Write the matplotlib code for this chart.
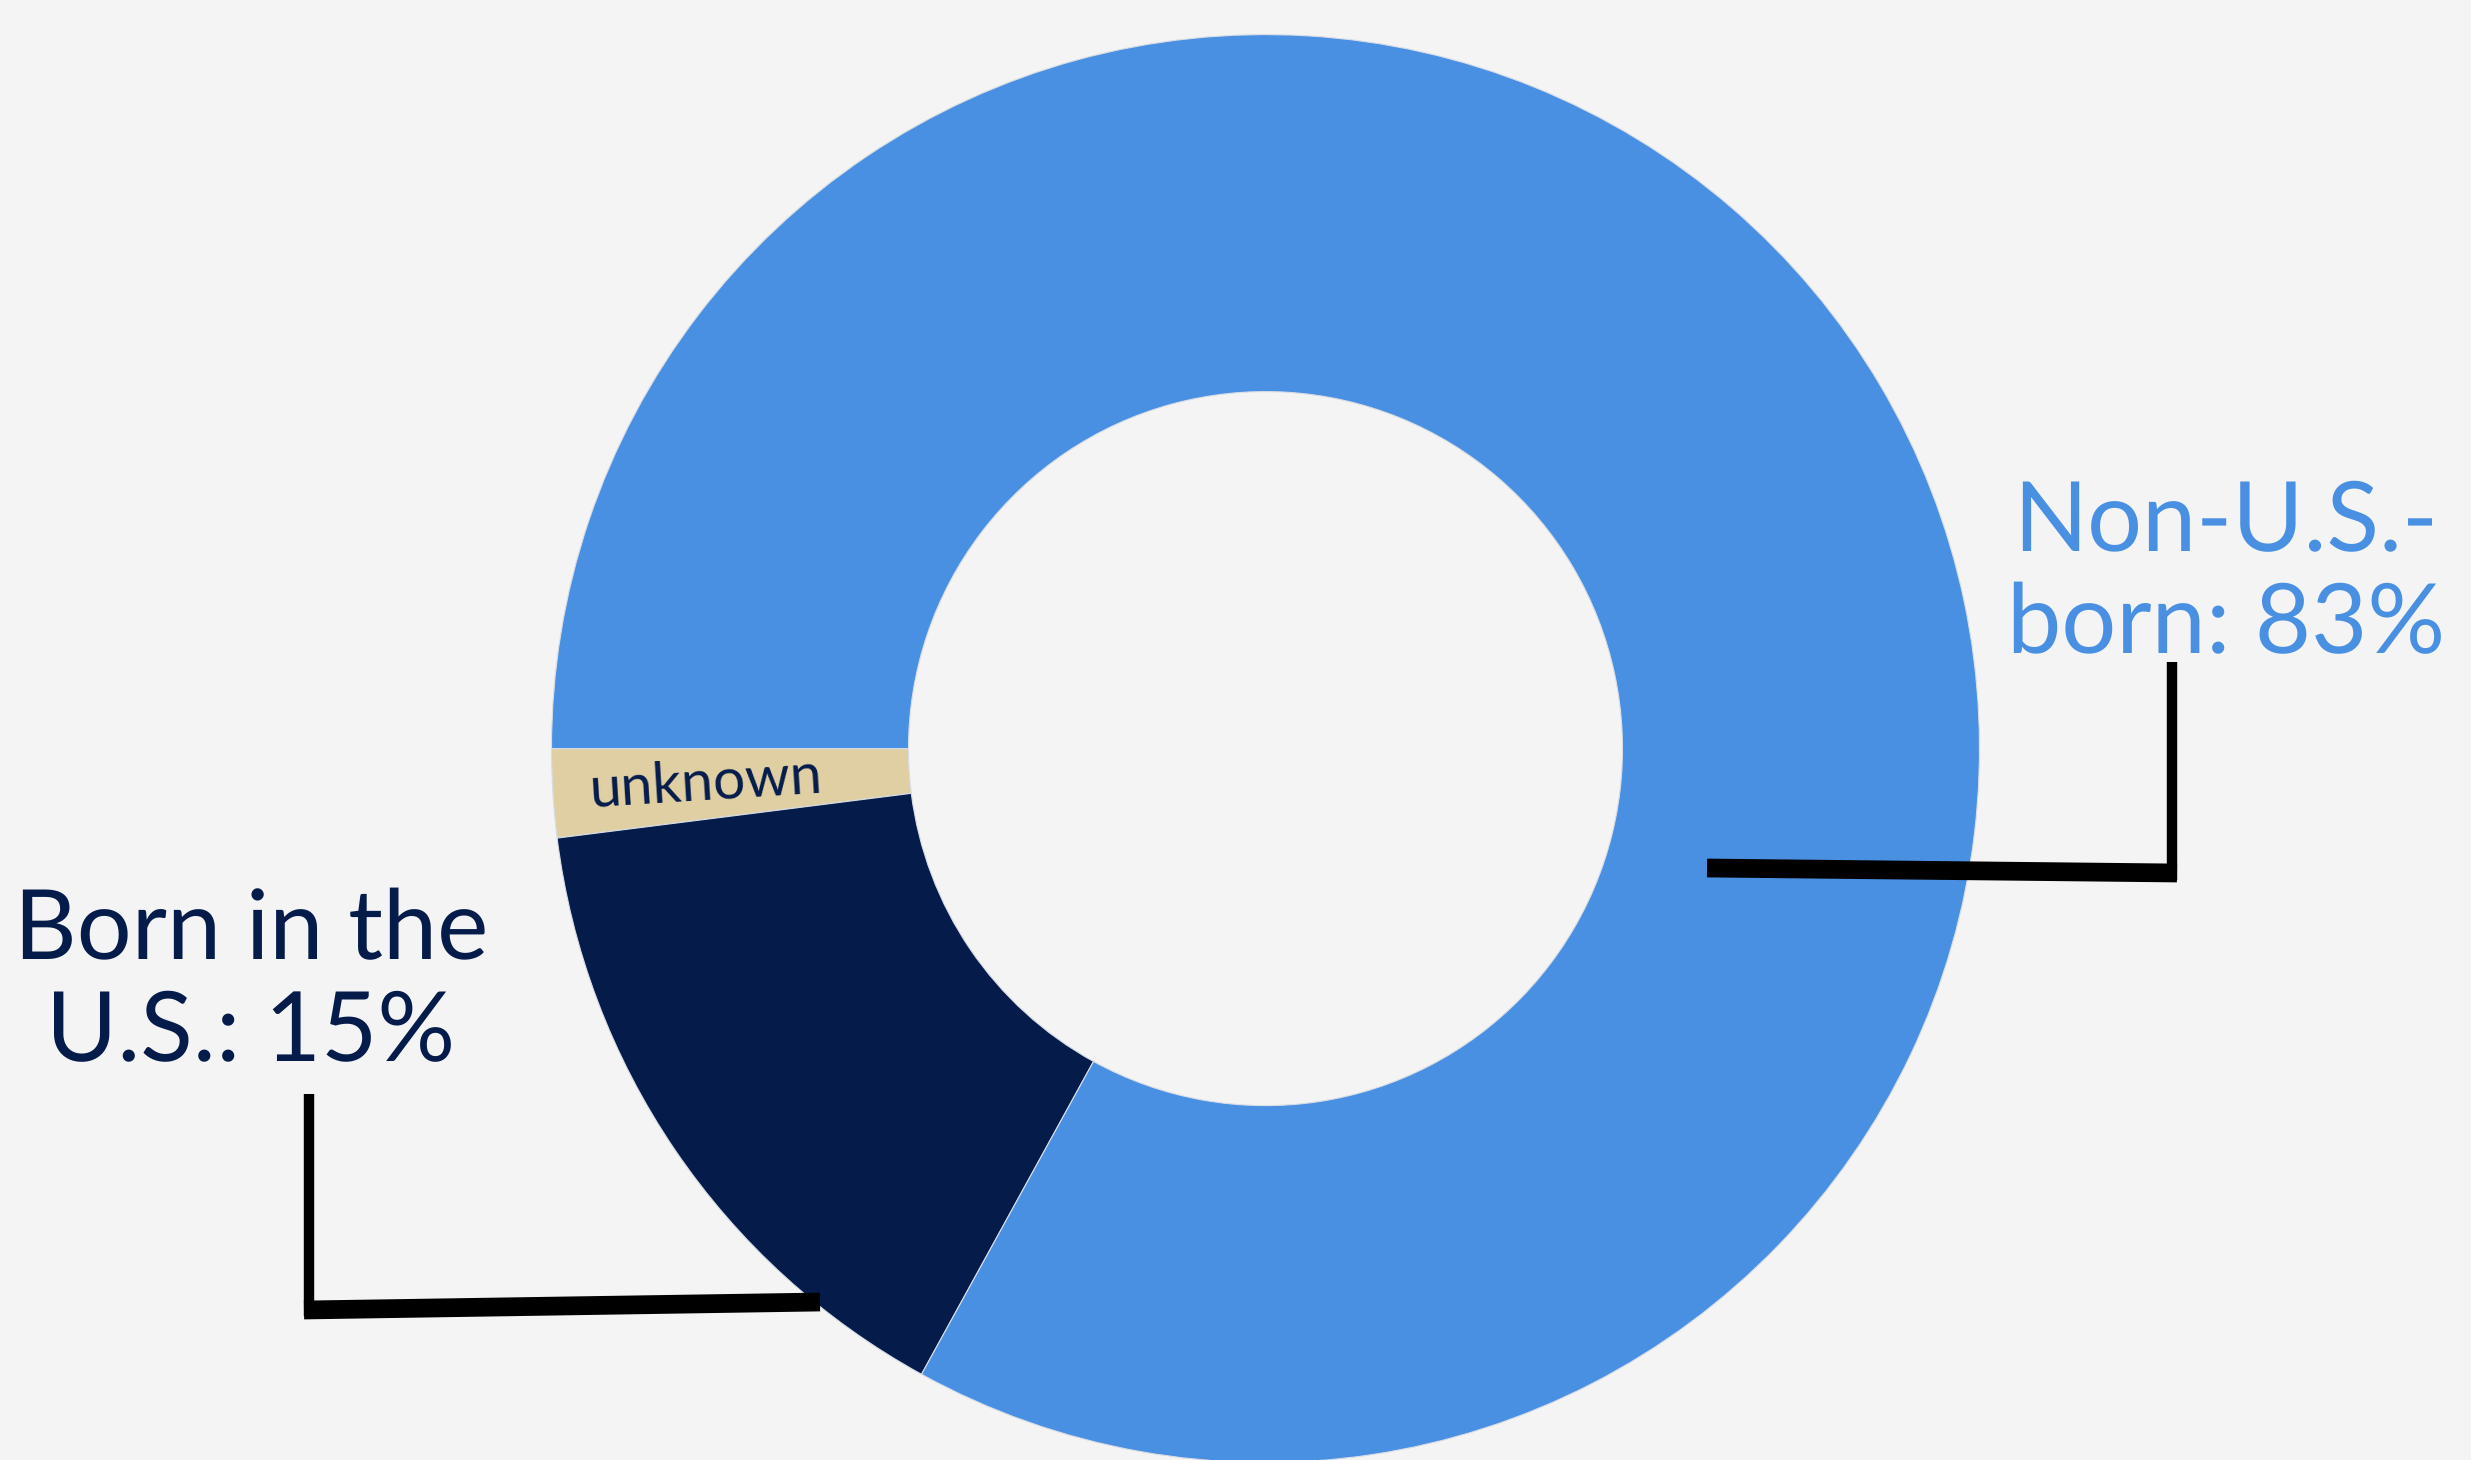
import numpy as np
import matplotlib.pyplot as plt

plt.rcParams['font.family'] = ['Lato', 'DejaVu Sans']
plt.rcParams['text.hinting'] = 'no_hinting'
plt.rcParams['text.hinting_factor'] = 1

# 데이터
labels = ['unknown', 'Born in the U.S.', 'Non-U.S.-born']
shares = [2, 15, 83]
colors = ['#E0CFA3', '#051C4B', '#4A90E2']
label_texts = ['unknown', 'Born in the\nU.S.: 15%', 'Non-U.S.-\nborn: 83%']

W, H = 2471, 1460
bg = '#F4F4F4'

fig = plt.figure(figsize=(W / 100, H / 100), dpi=100, facecolor=bg)
ax = fig.add_axes([0, 0, 1, 1])
ax.set_facecolor(bg)

cx, cy = 1265.5, H - 748.6
R = 714
ring = 357

wedges, _ = ax.pie(shares, colors=colors, startangle=180, counterclock=True,
                   radius=R, center=(cx, cy),
                   wedgeprops=dict(width=ring, edgecolor='#D8DDE6', linewidth=0.8))

ax.set_xlim(0, W)
ax.set_ylim(0, H)
ax.set_aspect('equal')
ax.axis('off')

# unknown 라벨 (조각 안쪽, 회전)
w = wedges[0]
mid = (w.theta1 + w.theta2) / 2
rr = R - ring * 0.43
ax.text(cx + rr * np.cos(np.radians(mid)), cy + rr * np.sin(np.radians(mid)),
        label_texts[0], rotation=mid - 180, rotation_mode='anchor',
        ha='center', va='center', fontsize=41, color=colors[1])

# 바깥 라벨
ax.text(251, H - 888, label_texts[1], ha='center', va='top', fontsize=70,
        color=colors[1], linespacing=1.19)
ax.text(2226, H - 480, label_texts[2], ha='center', va='top', fontsize=70,
        color=colors[2], linespacing=1.19)

# 연결선 (픽셀 좌표, 위에서부터)
def seg(x0, y0, x1, y1, lw):
    ax.plot([x0, x1], [H - y0, H - y1], color='black', lw=lw,
            solid_capstyle='butt')

seg(309, 1094, 309, 1316, 7.5)
seg(304, 1310, 820, 1302, 13.5)
seg(1707, 868, 2177, 873, 13.5)
seg(2172, 880, 2172, 662, 7.5)

fig.savefig('out.png', dpi=100, facecolor=bg)
